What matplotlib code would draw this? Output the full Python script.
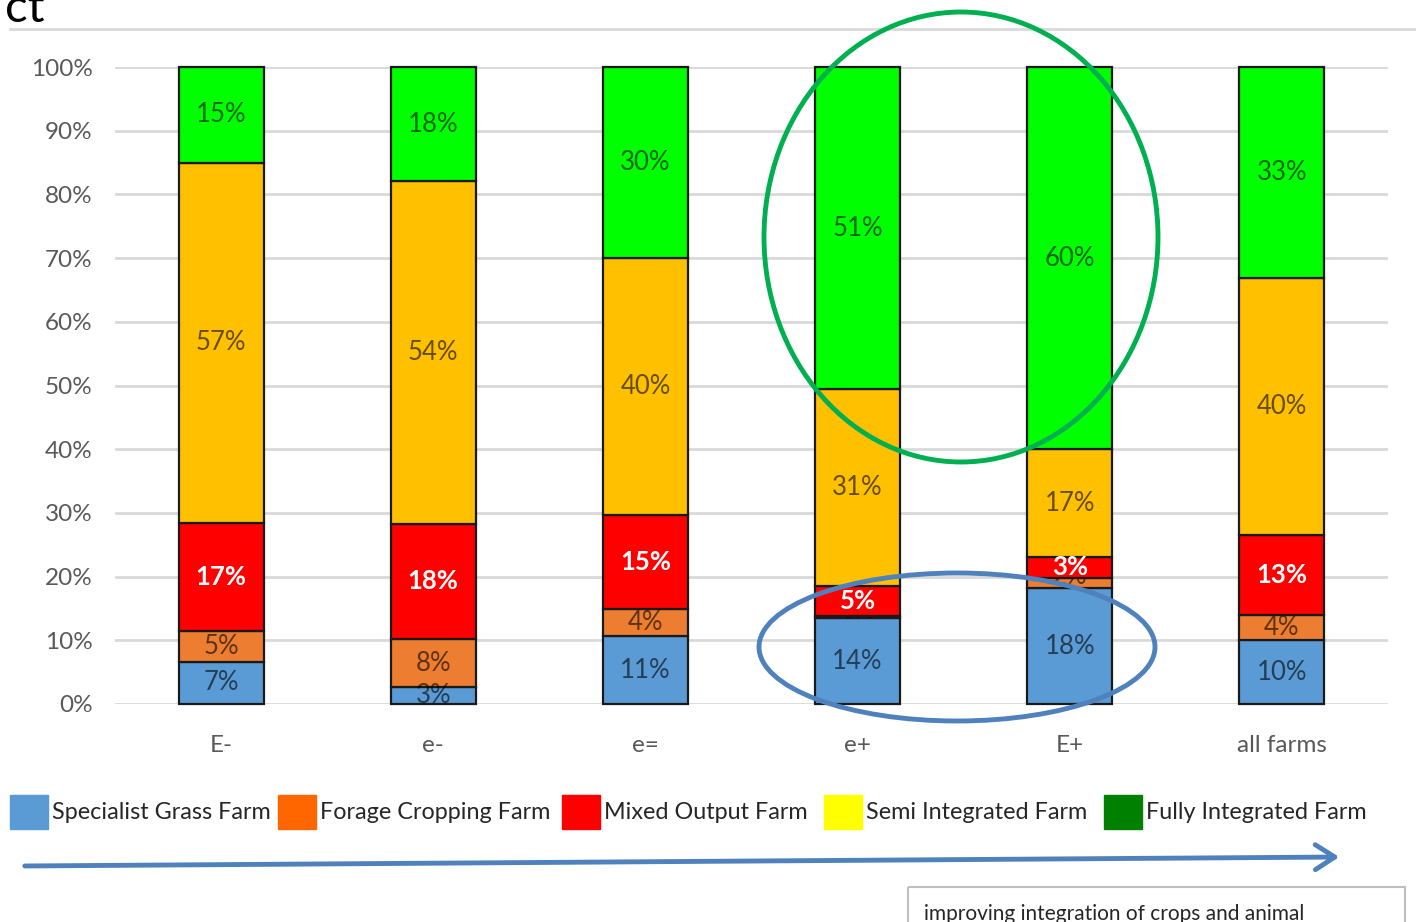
import matplotlib
matplotlib.use("Agg")
import matplotlib.pyplot as plt
from matplotlib.patches import Ellipse, Rectangle, FancyArrowPatch

plt.rcParams['font.family'] = ['Lato', 'DejaVu Sans']

categories = ["E-", "e-", "e=", "e+", "E+", "all farms"]
series_names = ["Specialist Grass Farm", "Forage Cropping Farm", "Mixed Output Farm",
                "Semi Integrated Farm", "Fully Integrated Farm"]
specialist = [6.6, 2.6, 10.6, 13.5, 18.2, 10.0]
forage = [4.9, 7.6, 4.3, 0.3, 1.6, 4.0]
mixed = [16.9, 18.1, 14.8, 4.7, 3.3, 12.6]
semi = [56.6, 53.8, 40.3, 30.9, 16.9, 40.3]
fully = [15.0, 17.9, 30.0, 50.6, 60.0, 33.1]
series_values = [specialist, forage, mixed, semi, fully]
bar_colors = ["#5B9BD5", "#ED7D31", "#FF0000", "#FFC000", "#00FF00"]
legend_colors = ["#5B9BD5", "#FF6600", "#FF0000", "#FFFF00", "#008000"]
y_ticks = [0, 10, 20, 30, 40, 50, 60, 70, 80, 90, 100]

W, H = 1416, 922
fig = plt.figure(figsize=(W / 100, H / 100), dpi=100)

def fx(px):
    return px / W

def fy(py):
    return 1 - py / H

ax = fig.add_axes([fx(115), fy(704), fx(1388) - fx(115), fy(67) - fy(704)])
ax.set_xlim(-0.5, len(categories) - 0.5)
ax.set_ylim(0, 100)
for s in ax.spines.values():
    s.set_visible(False)
ax.set_yticks(y_ticks)
ax.set_yticklabels([f"{t}%" for t in y_ticks], fontsize=17.5, color="#595959")
ax.set_xticks(range(len(categories)))
ax.set_xticklabels(categories, fontsize=17.5, color="#595959")
ax.tick_params(length=0)
ax.tick_params(axis='y', pad=24)
ax.tick_params(axis='x', pad=22)
ax.tick_params(axis='y', pad=16)
for t in y_ticks:
    ax.axhline(t, color="#D9D9D9", lw=2, zorder=0.5)

x = list(range(len(categories)))
bottoms = [0.0] * len(categories)
for i, (vals, col) in enumerate(zip(series_values, bar_colors)):
    zb = 2 + i * 0.2
    ax.bar(x, vals, bottom=bottoms, width=0.4, color=col, edgecolor="#1a1a1a",
           linewidth=1.6, zorder=zb, clip_on=False)
    for xi, v, b in zip(x, vals, bottoms):
        label = f"{round(v)}%"
        yc = b + v / 2
        if i == 2:
            ax.text(xi, yc, label, ha='center', va='center', fontsize=18.5,
                    fontweight='bold', color='white', zorder=10)
        elif i == 1:
            ax.text(xi, yc + (1.0 if v < 2 else 0), label, ha='center', va='center', fontsize=18.5,
                    color='black', alpha=0.6, zorder=zb + 0.1)
        else:
            ax.text(xi, yc, label, ha='center', va='center', fontsize=18.5,
                    color='black', alpha=0.6, zorder=10)
    bottoms = [b + v for b, v in zip(bottoms, vals)]

# overlay elements in figure pixel space
ov = fig.add_axes([0, 0, 1, 1], facecolor='none')
ov.set_xlim(0, W)
ov.set_ylim(H, 0)
ov.axis('off')

ov.text(5, 22, "ct", fontsize=34, color="black", va='baseline', ha='left')
ov.plot([10, W], [29, 29], color="#D9D9D9", lw=2)

ov.add_patch(Ellipse((961, 237), 394, 450, fill=False, edgecolor="#00B050", lw=3.5, zorder=20))
ov.add_patch(Ellipse((957, 647), 396, 148, fill=False, edgecolor="#4F81BD", lw=3.5, zorder=20))

# legend
lx = [10, 278, 562, 824, 1104]
for xi, name, col in zip(lx, series_names, legend_colors):
    ov.add_patch(Rectangle((xi, 795), 38, 34, color=col, zorder=5))
    ov.text(xi + 42, 812, name, fontsize=16.8, color="#262626", va='center', ha='left')

ov.add_patch(FancyArrowPatch((22, 866), (1342, 857), arrowstyle='->,head_length=14,head_width=9',
                             color="#4F81BD", lw=3.5, mutation_scale=1))

ov.add_patch(Rectangle((908, 887), 497, 60, fill=False, edgecolor="#BFBFBF", lw=1.5))
ov.text(924, 920, "improving integration of crops and animal", fontsize=15,
        color="#262626", va='baseline', ha='left')

fig.savefig("out.png", dpi=100)
